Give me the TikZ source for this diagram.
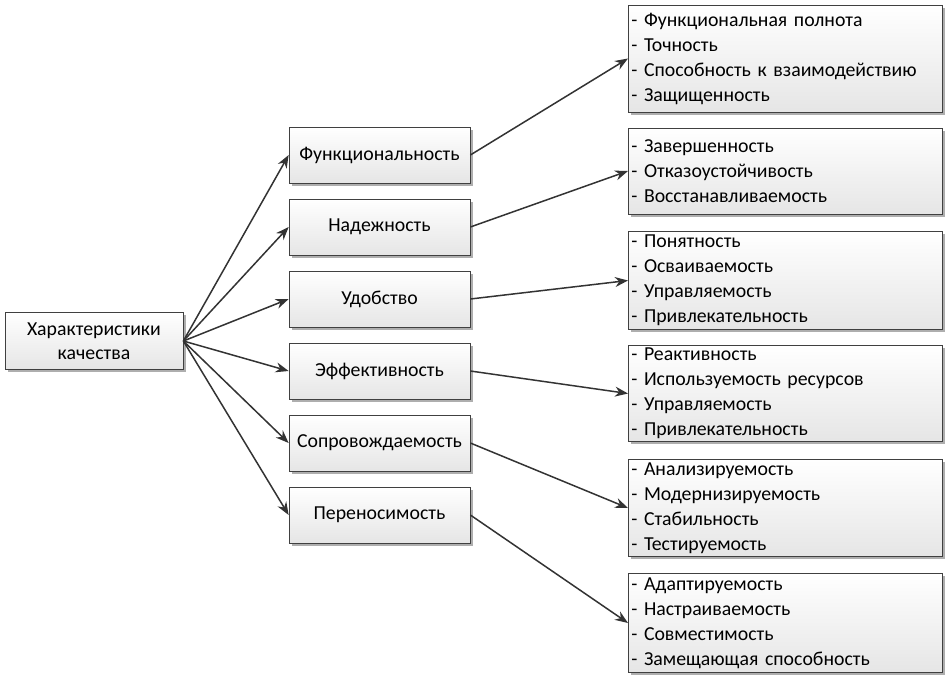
\documentclass[tikz,border=0pt]{standalone}
\usepackage{fontspec}
\setmainfont{Carlito}
\usetikzlibrary{arrows.meta,shadows}
\definecolor{edgec}{HTML}{333333}
\definecolor{boxline}{HTML}{404040}
\newcommand\myboxfont{\fontsize{19.8}{25}\selectfont\setlength{\spaceskip}{0.24em plus 0.1em minus 0.05em}}
\tikzset{
  boxbase/.style={draw=boxline, line width=0.7pt, top color=white, bottom color=black!10,
    drop shadow={shadow xshift=2.5pt, shadow yshift=-2.5pt, fill=black!45, opacity=0.7},
    font=\myboxfont, inner sep=2pt},
  midbox/.style={boxbase, minimum width=181pt, minimum height=56pt, align=center},
  listbox/.style={boxbase, minimum width=314pt, anchor=west, align=left, text width=308pt},
  conn/.style={draw=edgec, line width=1.5pt, -{Stealth[length=13pt,width=10pt]}}
}
\begin{document}
\begin{tikzpicture}[x=1pt,y=-1pt]
\useasboundingbox (0,0) rectangle (948,681);
\node[boxbase, minimum width=178pt, minimum height=57pt, align=center] (root) at (94,341) {Характеристики\\[-1pt]качества};
\node[midbox] (m1) at (379.5,155) {Функциональность};
\node[midbox] (m2) at (379.5,227) {Надежность};
\node[midbox] (m3) at (379.5,299) {Удобство};
\node[midbox] (m4) at (379.5,371) {Эффективность};
\node[midbox] (m5) at (379.5,443) {Сопровождаемость};
\node[midbox] (m6) at (379.5,515) {Переносимость};
\node[listbox, minimum height=107pt] (r1) at (628,58.5) {- Функциональная полнота\\- Точность\\- Способность к взаимодействию\\- Защищенность};
\node[listbox, minimum height=86pt] (r2) at (628,171) {- Завершенность\\- Отказоустойчивость\\- Восстанавливаемость};
\node[listbox, minimum height=98pt] (r3) at (628,280.5) {- Понятность\\- Осваиваемость\\- Управляемость\\- Привлекательность};
\node[listbox, minimum height=96pt] (r4) at (628,393.5) {- Реактивность\\- Используемость ресурсов\\- Управляемость\\- Привлекательность};
\node[listbox, minimum height=97pt] (r5) at (628,508) {- Анализируемость\\- Модернизируемость\\- Стабильность\\- Тестируемость};
\node[listbox, minimum height=99pt] (r6) at (628,623) {- Адаптируемость\\- Настраиваемость\\- Совместимость\\- Замещающая способность};
\foreach \i in {1,...,6} {
  \draw[conn] (root.east) -- (m\i.west);
  \draw[conn] (m\i.east) -- (r\i.west);
}
\end{tikzpicture}
\end{document}
